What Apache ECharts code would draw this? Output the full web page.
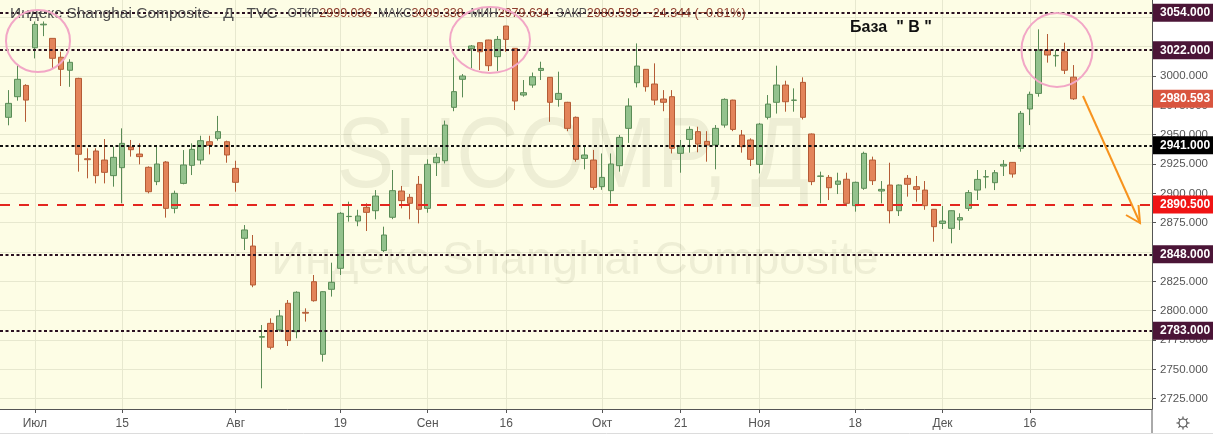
<!DOCTYPE html>
<html>
<head>
<meta charset="utf-8">
<title>SHCOMP</title>
<script src="https://cdn.jsdelivr.net/npm/echarts@6/dist/echarts.min.js"></script>
<style>
  html, body { margin: 0; padding: 0; background: #fff; }
  #chart { width: 1213px; height: 440px; }
</style>
</head>
<body>
<div id="chart"></div>
<script>
// торговые дни
const dates = [
  '2019-06-26', '2019-06-27', '2019-06-28',
  '2019-07-01', '2019-07-02', '2019-07-03', '2019-07-04', '2019-07-05',
  '2019-07-08', '2019-07-09', '2019-07-10', '2019-07-11', '2019-07-12',
  '2019-07-15', '2019-07-16', '2019-07-17', '2019-07-18', '2019-07-19',
  '2019-07-22', '2019-07-23', '2019-07-24', '2019-07-25', '2019-07-26',
  '2019-07-29', '2019-07-30', '2019-07-31', '2019-08-01', '2019-08-02',
  '2019-08-05', '2019-08-06', '2019-08-07', '2019-08-08', '2019-08-09',
  '2019-08-12', '2019-08-13', '2019-08-14', '2019-08-15', '2019-08-16',
  '2019-08-19', '2019-08-20', '2019-08-21', '2019-08-22', '2019-08-23',
  '2019-08-26', '2019-08-27', '2019-08-28', '2019-08-29', '2019-08-30',
  '2019-09-02', '2019-09-03', '2019-09-04', '2019-09-05', '2019-09-06',
  '2019-09-09', '2019-09-10', '2019-09-11', '2019-09-12',
  '2019-09-16', '2019-09-17', '2019-09-18', '2019-09-19', '2019-09-20',
  '2019-09-23', '2019-09-24', '2019-09-25', '2019-09-26', '2019-09-27',
  '2019-09-30',
  '2019-10-08', '2019-10-09', '2019-10-10', '2019-10-11',
  '2019-10-14', '2019-10-15', '2019-10-16', '2019-10-17', '2019-10-18',
  '2019-10-21', '2019-10-22', '2019-10-23', '2019-10-24', '2019-10-25',
  '2019-10-28', '2019-10-29', '2019-10-30', '2019-10-31', '2019-11-01',
  '2019-11-04', '2019-11-05', '2019-11-06', '2019-11-07', '2019-11-08',
  '2019-11-11', '2019-11-12', '2019-11-13', '2019-11-14', '2019-11-15',
  '2019-11-18', '2019-11-19', '2019-11-20', '2019-11-21', '2019-11-22',
  '2019-11-25', '2019-11-26', '2019-11-27', '2019-11-28', '2019-11-29',
  '2019-12-02', '2019-12-03', '2019-12-04', '2019-12-05', '2019-12-06',
  '2019-12-09', '2019-12-10', '2019-12-11', '2019-12-12', '2019-12-13',
  '2019-12-16', '2019-12-17', '2019-12-18', '2019-12-19', '2019-12-20',
  '2019-12-23'
]
// пустое место справа
const futureDates = ['2019-12-24', '2019-12-25', '2019-12-26', '2019-12-27', '2019-12-30',
  '2019-12-31', '2020-01-02', '2020-01-03', '2020-01-06']

const opens = [
  2964.8, 2982.4, 2992.0,
  3024.1, 3043.6, 3032.1, 3016.0, 3004.9,
  2998.0, 2929.5, 2936.1, 2928.4, 2915.1,
  2921.9, 2939.5, 2933.5, 2922.2, 2910.0,
  2926.7, 2887.2, 2908.5, 2923.9, 2928.4,
  2944.0, 2946.9, 2944.0, 2921.3, 2861.7,
  2855.1, 2777.4, 2789.2, 2783.6, 2806.3,
  2782.1, 2798.6, 2824.7, 2762.8, 2818.2,
  2836.1, 2880.2, 2876.4, 2888.1, 2885.2,
  2851.2, 2879.6, 2902.0, 2896.6, 2907.7,
  2887.2, 2926.1, 2927.8, 2973.3, 2997.2,
  3023.3, 3028.4, 3030.7, 3016.5,
  3042.6, 3023.6, 2983.8, 2992.3, 3004.8,
  2998.9, 2980.1, 2977.6, 2964.8, 2929.8,
  2928.4,
  2905.7, 2902.3, 2923.6, 2955.4,
  2994.3, 3005.7, 2993.2, 2980.4, 2982.4,
  2934.1, 2946.0, 2952.6, 2944.3, 2941.2,
  2958.2, 2979.5, 2949.7, 2945.5, 2924.7,
  2964.8, 2977.6, 2992.3, 2979.3, 2994.6,
  2950.6, 2914.5, 2913.6, 2907.7, 2912.0,
  2889.5, 2904.3, 2928.4, 2902.0, 2907.1,
  2885.2, 2912.8, 2905.7, 2902.8, 2886.4,
  2874.4, 2870.2, 2877.3, 2887.2, 2902.8,
  2914.0, 2909.1, 2923.3, 2926.4, 2938.4,
  2971.9, 2985.2, 3022.2, 3017.2, 3020.7,
  2999.036
]
const closes = [
  2976.7, 2997.2, 2979.5,
  3044.0, 3044.2, 3015.1, 3005.7, 3011.7,
  2933.3, 2928.7, 2915.1, 2917.9, 2930.7,
  2942.6, 2937.2, 2931.3, 2901.4, 2925.0,
  2887.2, 2900.0, 2924.2, 2937.5, 2944.9,
  2940.9, 2952.6, 2932.7, 2909.4, 2868.8,
  2821.9, 2777.9, 2768.8, 2795.5, 2774.5,
  2815.7, 2797.9, 2808.5, 2816.2, 2824.2,
  2883.0, 2880.4, 2880.7, 2883.8, 2897.7,
  2864.5, 2902.3, 2893.8, 2891.5, 2886.4,
  2924.7, 2930.7, 2958.2, 2986.7, 3000.0,
  3025.6, 3020.7, 3008.8, 3031.2,
  3031.2, 2978.7, 2985.8, 2999.4, 3006.5,
  2977.6, 2985.2, 2955.4, 2929.0, 2932.7,
  2905.1,
  2913.6, 2925.0, 2947.7, 2974.4,
  3008.5, 2990.9, 2979.5, 2977.6, 2938.4,
  2940.3, 2954.5, 2942.0, 2941.2, 2955.4,
  2980.1, 2954.5, 2939.8, 2929.0, 2959.0,
  2976.1, 2992.3, 2978.1, 2979.5, 2964.8,
  2910.0, 2914.8, 2904.8, 2910.5, 2891.5,
  2909.4, 2934.1, 2910.8, 2903.4, 2885.2,
  2907.1, 2907.7, 2903.4, 2889.5, 2871.6,
  2876.4, 2885.2, 2879.3, 2900.6, 2911.9,
  2914.2, 2917.6, 2924.7, 2916.5, 2968.2,
  2984.4, 3022.2, 3017.9, 3017.6, 3004.937,
  2980.593
]
const lows = [
  2958.0, 2979.0, 2961.0,
  3015.0, 3034.0, 3006.6, 2991.5, 2990.8,
  2918.5, 2912.8, 2908.5, 2908.5, 2905.7,
  2891.5, 2931.3, 2924.7, 2900.0, 2907.0,
  2879.3, 2883.0, 2907.7, 2915.6, 2924.7,
  2933.2, 2945.0, 2926.1, 2901.4, 2851.7,
  2820.0, 2733.8, 2767.0, 2782.1, 2769.9,
  2776.5, 2790.7, 2807.7, 2756.6, 2812.0,
  2830.4, 2875.9, 2872.0, 2867.9, 2877.9,
  2850.0, 2878.0, 2887.2, 2877.9, 2874.4,
  2883.5, 2914.8, 2925.5, 2970.0, 2981.8,
  3006.5, 3005.1, 3004.3, 3004.3,
  3020.7, 2971.0, 2982.4, 2990.0, 2996.6,
  2961.0, 2973.9, 2953.0, 2927.0, 2920.5,
  2903.0,
  2903.0, 2891.5, 2918.5, 2943.0,
  2990.3, 2986.7, 2975.3, 2970.0, 2934.0,
  2917.6, 2934.7, 2935.0, 2927.0, 2920.5,
  2956.0, 2953.0, 2934.7, 2923.3, 2917.0,
  2963.0, 2968.0, 2969.6, 2969.6, 2963.0,
  2907.0, 2891.5, 2894.3, 2899.4, 2889.0,
  2884.4, 2903.0, 2907.1, 2891.5, 2874.4,
  2880.7, 2897.2, 2892.9, 2886.0, 2858.8,
  2869.6, 2857.4, 2868.8, 2885.0, 2894.3,
  2904.3, 2902.8, 2914.8, 2913.4, 2935.5,
  2958.2, 2982.4, 3011.4, 3008.0, 3001.7,
  2979.634
]
const highs = [
  2988.0, 3009.4, 2993.0,
  3046.5, 3046.5, 3032.1, 3020.8, 3014.3,
  2998.5, 2938.4, 2938.4, 2946.3, 2939.8,
  2955.4, 2945.5, 2942.6, 2923.0, 2940.3,
  2927.5, 2902.3, 2936.9, 2942.6, 2949.1,
  2949.1, 2966.0, 2944.9, 2927.8, 2873.0,
  2864.5, 2787.8, 2793.5, 2800.6, 2809.1,
  2816.5, 2802.0, 2830.4, 2816.5, 2840.9,
  2884.0, 2892.9, 2886.0, 2891.5, 2902.8,
  2871.6, 2919.9, 2906.3, 2899.4, 2914.8,
  2929.0, 2934.1, 2962.0, 3015.9, 3001.7,
  3026.4, 3028.6, 3030.9, 3034.1,
  3042.8, 3023.8, 2996.6, 3003.0, 3012.2,
  2999.0, 3003.7, 2978.0, 2965.5, 2939.8,
  2937.0,
  2934.0, 2934.0, 2949.7, 2981.0,
  3027.8, 3005.9, 3010.8, 2988.0, 2988.0,
  2945.5, 2957.0, 2956.8, 2953.0, 2958.2,
  2981.0, 2979.8, 2954.0, 2946.9, 2960.0,
  2983.8, 3008.8, 2996.0, 2989.5, 2998.9,
  2951.0, 2918.5, 2915.6, 2917.6, 2917.6,
  2910.0, 2935.5, 2931.3, 2910.5, 2926.1,
  2907.5, 2915.6, 2914.8, 2910.5, 2886.6,
  2889.2, 2885.5, 2883.0, 2902.8, 2919.9,
  2919.9, 2919.9, 2928.4, 2926.6, 2970.2,
  2986.7, 3039.8, 3035.8, 3022.2, 3028.4,
  3009.338
]

// подписи шкалы цены и дат
const priceTicks = [2725, 2750, 2775, 2800, 2825, 2850, 2875, 2900, 2925, 2950, 2975, 3000, 3025, 3050]
const dateLabels = {
  '2019-07-01': 'Июл', '2019-07-15': '15', '2019-08-01': 'Авг', '2019-08-19': '19',
  '2019-09-02': 'Сен', '2019-09-16': '16', '2019-10-08': 'Окт', '2019-10-21': '21',
  '2019-11-01': 'Ноя', '2019-11-18': '18', '2019-12-02': 'Дек', '2019-12-16': '16',
}

// уровни
const darkLevels = [3054, 3022, 2848, 2783]
const blackLevels = [2941]
const redLevels = [2890.5]

const FONT = '"Liberation Sans", Arial, sans-serif'
const chart = echarts.init(document.getElementById('chart'))

const categories = [''].concat(dates, futureDates)
const candles = dates.map((d, i) => [d, opens[i], closes[i], lows[i], highs[i]])
const showDate = (i, v) => dateLabels[v] !== undefined

const n = closes.length
const last = { o: opens[n - 1], h: highs[n - 1], l: lows[n - 1], c: closes[n - 1] }
const chg = last.c - closes[n - 2]
const chgPct = chg / closes[n - 2] * 100
const sign = v => (v < 0 ? '−' : '+')

function tagLabel(bg) {
  return {
    show: true,
    position: 'end',
    distance: 1,
    formatter: p => Number(p.value).toFixed(3),
    color: '#fff',
    fontWeight: 'bold',
    fontSize: 12,
    fontFamily: FONT,
    backgroundColor: bg,
    padding: [2, 0, 2, 7],
    width: 54,
    lineHeight: 14,
  }
}

const levelData = []
darkLevels.forEach(v => levelData.push({
  yAxis: v,
  lineStyle: { color: '#2a1020', width: 2, type: [3, 2.5] },
  label: tagLabel('#4b1537'),
}))
blackLevels.forEach(v => levelData.push({
  yAxis: v,
  lineStyle: { color: '#111', width: 2, type: [3, 2.5] },
  label: tagLabel('#000'),
}))
redLevels.forEach(v => levelData.push({
  yAxis: v,
  lineStyle: { color: '#e3261f', width: 2, type: [10, 9] },
  label: tagLabel('#f01414'),
}))
// последняя цена
levelData.push({
  yAxis: last.c,
  lineStyle: { color: 'rgba(0,0,0,0)', width: 0 },
  label: tagLabel('#d9553f'),
})

const option = {
  animation: false,
  backgroundColor: '#fff',
  grid: {
    left: 0, right: 61, top: 0, bottom: 31,
    show: true, backgroundColor: '#fdfde5', borderWidth: 0,
  },
  xAxis: {
    type: 'category',
    data: categories,
    boundaryGap: false,
    axisLine: { lineStyle: { color: '#555', width: 1 } },
    axisTick: { show: true, interval: showDate, length: 4, lineStyle: { color: '#555' } },
    axisLabel: {
      interval: showDate,
      formatter: v => dateLabels[v] || '',
      color: '#555', fontSize: 12, fontFamily: FONT, margin: 9,
    },
    splitLine: { show: true, interval: showDate, lineStyle: { color: '#e7e8cf', width: 1 } },
  },
  yAxis: {
    type: 'value',
    position: 'right',
    min: 2716.2,
    max: 3064.8,
    scale: true,
    axisLine: { show: true, lineStyle: { color: '#555', width: 1 } },
    axisTick: { show: true, length: 4, customValues: priceTicks, lineStyle: { color: '#555' } },
    axisLabel: {
      customValues: priceTicks,
      formatter: v => v.toFixed(3),
      color: '#555', fontSize: 11.5, fontFamily: FONT, margin: 8,
    },
    splitLine: { show: true, lineStyle: { color: '#e7e8cf', width: 1 } },
  },
  series: [{
    type: 'candlestick',
    data: candles,
    encode: { x: 0, y: [1, 2, 3, 4] },
    barWidth: 6,
    clip: false,
    itemStyle: {
      color: '#93c28d',
      color0: '#e3845a',
      borderColor: '#5a8c56',
      borderColor0: '#b45c36',
      borderWidth: 1,
    },
    markLine: {
      symbol: ['none', 'none'],
      silent: true,
      animation: false,
      precision: 3,
      data: levelData,
    },
  }],
  graphic: [
    // водяной знак
    {
      type: 'text', z: 1, silent: true,
      x: 573, y: 209, scaleX: 0.86,
      style: {
        text: 'SHCOMP, Д',
        x: 0, y: 0,
        align: 'center', verticalAlign: 'bottom',
        font: '100px ' + FONT,
        fill: 'rgba(60,60,20,0.075)',
      },
    },
    {
      type: 'text', z: 1, silent: true,
      style: {
        text: 'Индекс Shanghai Composite',
        x: 575, y: 285,
        align: 'center', verticalAlign: 'bottom',
        font: '47px ' + FONT,
        fill: 'rgba(60,60,20,0.075)',
      },
    },
    // заголовок
    {
      type: 'text', z: 20, silent: true,
      style: {
        x: 10, y: 14,
        verticalAlign: 'middle',
        text: '{t|Индекс Shanghai Composite   Д   TVC}   {k|ОТКР}{v|' + last.o.toFixed(3) + '}  {k|МАКС}{v|' + last.h.toFixed(3)
          + '}  {k|МИН}{v|' + last.l.toFixed(3) + '}  {k|ЗАКР}{v|' + last.c.toFixed(3) + '}  {v|' + sign(chg) + Math.abs(chg).toFixed(3)
          + ' (' + sign(chgPct) + Math.abs(chgPct).toFixed(2) + '%)}',
        rich: {
          t: { font: '15.5px ' + FONT, fill: '#4e4e4e' },
          k: { font: '12px ' + FONT, fill: '#555' },
          v: { font: '12.5px ' + FONT, fill: '#8c3a2a' },
        },
      },
    },
    // пометки
    { type: 'ellipse', z: 20, silent: true, shape: { cx: 38, cy: 41, rx: 32, ry: 31 }, style: { fill: 'none', stroke: '#f2a7c6', lineWidth: 2 } },
    { type: 'ellipse', z: 20, silent: true, shape: { cx: 490, cy: 40, rx: 40, ry: 33 }, style: { fill: 'none', stroke: '#f2a7c6', lineWidth: 2 } },
    { type: 'ellipse', z: 20, silent: true, shape: { cx: 1057, cy: 50, rx: 35.5, ry: 37 }, style: { fill: 'none', stroke: '#f2a7c6', lineWidth: 2 } },
    {
      type: 'text', z: 20, silent: true,
      style: { text: 'База  " В "', x: 850, y: 28, verticalAlign: 'middle', font: 'bold 16px ' + FONT, fill: '#111' },
    },
    { type: 'line', z: 20, silent: true, shape: { x1: 1083, y1: 96, x2: 1140, y2: 223 }, style: { stroke: '#f7931e', lineWidth: 2 } },
    { type: 'polyline', z: 20, silent: true, shape: { points: [[1126, 215], [1140, 223], [1138.5, 205]] }, style: { stroke: '#f7931e', lineWidth: 2, fill: 'none' } },
    // низ
    { type: 'line', z: 5, silent: true, shape: { x1: 1152, y1: 409, x2: 1152, y2: 433 }, style: { stroke: '#555', lineWidth: 1 } },
    { type: 'line', z: 5, silent: true, shape: { x1: 0, y1: 433.5, x2: 1213, y2: 433.5 }, style: { stroke: '#dcdcdc', lineWidth: 1 } },
    { type: 'circle', z: 5, silent: true, shape: { cx: 1183, cy: 423, r: 4 }, style: { fill: 'none', stroke: '#555', lineWidth: 1.2 } },
  ],
}

// лучики шестерёнки
for (let k = 0; k < 8; k++) {
  const a = k * Math.PI / 4
  option.graphic.push({
    type: 'line', z: 5, silent: true,
    shape: { x1: 1183 + Math.cos(a) * 4, y1: 423 + Math.sin(a) * 4, x2: 1183 + Math.cos(a) * 6.5, y2: 423 + Math.sin(a) * 6.5 },
    style: { stroke: '#555', lineWidth: 1.2 },
  })
}

chart.setOption(option)
</script>
</body>
</html>
